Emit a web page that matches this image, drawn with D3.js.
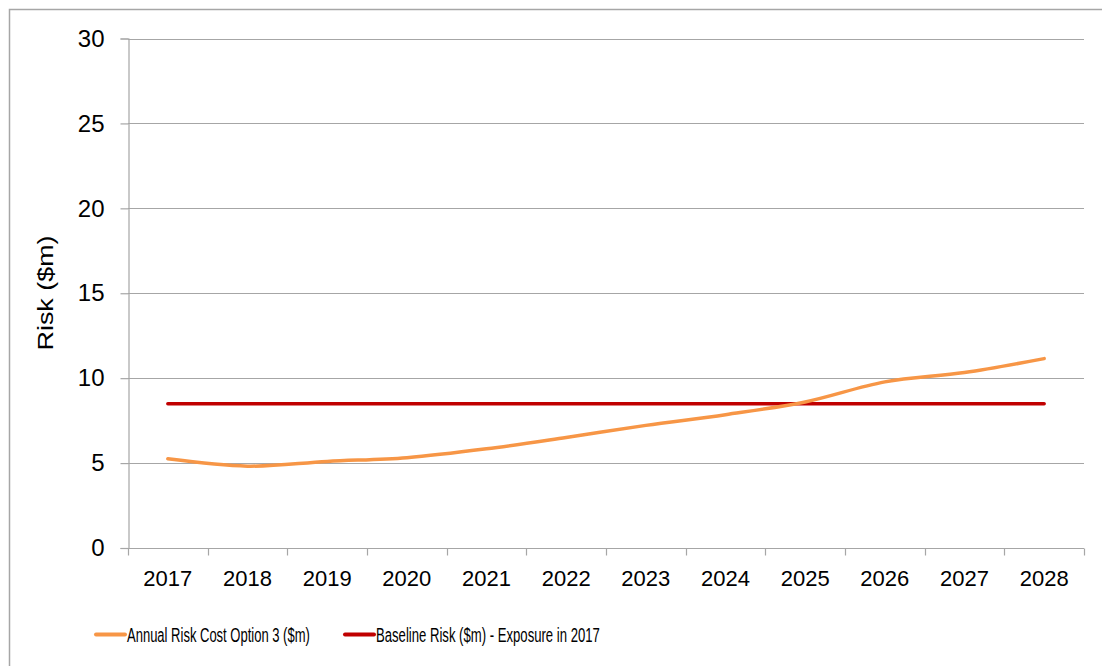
<!DOCTYPE html>
<html>
<head>
<meta charset="utf-8">
<script src="https://cdn.jsdelivr.net/npm/d3@7"></script>
<style>
  html, body { margin: 0; padding: 0; background: #fff; }
  svg { display: block; font-family: "Liberation Sans", Arial, sans-serif; }
</style>
</head>
<body>
<svg id="chart" width="1102" height="666"></svg>
<script>
// Chart data
const years = ["2017","2018","2019","2020","2021","2022","2023","2024","2025","2026","2027","2028"];
const option3Risk = [5.25, 4.82, 5.10, 5.32, 5.84, 6.51, 7.22, 7.85, 8.60, 9.78, 10.33, 11.15];
const baselineRisk = [8.5, 8.5, 8.5, 8.5, 8.5, 8.5, 8.5, 8.5, 8.5, 8.5, 8.5, 8.5];
const yTicks = [0, 5, 10, 15, 20, 25, 30];
const seriesNames = ["Annual Risk Cost Option 3 ($m)", "Baseline Risk ($m) - Exposure in 2017"];

const svg = d3.select("#chart");
const gridColor = "#a6a6a6";
const plot = { left: 128, right: 1084, top: 38.5, bottom: 548 };

// Outer frame of the chart area
svg.append("rect")
  .attr("x", 9.5).attr("y", 9.5)
  .attr("width", 1102).attr("height", 666)
  .attr("fill", "none").attr("stroke", gridColor).attr("stroke-width", 1.5);

const x = d3.scaleBand().domain(years).range([plot.left, plot.right]);
const xc = d => x(d) + x.bandwidth() / 2;
const y = d3.scaleLinear().domain([0, 30]).range([plot.bottom, plot.top]);

// Horizontal gridlines
svg.append("g").selectAll("line").data(yTicks.filter(t => t > 0)).join("line")
  .attr("x1", plot.left).attr("x2", plot.right)
  .attr("y1", d => Math.round(y(d)) + 0.5).attr("y2", d => Math.round(y(d)) + 0.5)
  .attr("stroke", gridColor).attr("stroke-width", 1.2);

// Y axis
const yAxis = svg.append("g")
  .attr("transform", `translate(${plot.left + 0.5},0)`)
  .call(d3.axisLeft(y).tickValues(yTicks).tickSize(8).tickPadding(16));
yAxis.select(".domain").attr("stroke", gridColor).attr("stroke-width", 1.2);
yAxis.selectAll(".tick line").attr("stroke", gridColor).attr("stroke-width", 1.2);
yAxis.selectAll(".tick text")
  .attr("font-size", 24).attr("fill", "#000")
  .attr("font-family", "Liberation Sans, Arial, sans-serif");

// X axis with tick marks on the category boundaries
const xAxisG = svg.append("g").attr("transform", `translate(0,${Math.round(plot.bottom) + 0.5})`);
xAxisG.append("line")
  .attr("x1", plot.left).attr("x2", plot.right)
  .attr("stroke", gridColor).attr("stroke-width", 1.2);
const boundaries = years.map(d => x(d)).concat([plot.right]);
xAxisG.selectAll("line.tk").data(boundaries).join("line")
  .attr("class", "tk")
  .attr("x1", d => Math.round(d) + 0.5).attr("x2", d => Math.round(d) + 0.5)
  .attr("y1", 0).attr("y2", 7)
  .attr("stroke", gridColor).attr("stroke-width", 1.2);
xAxisG.selectAll("text").data(years).join("text")
  .attr("x", d => xc(d)).attr("y", 37)
  .attr("text-anchor", "middle")
  .attr("font-size", 22).attr("fill", "#000")
  .text(d => d);

// Y axis title
svg.append("text")
  .attr("transform", "translate(53,293) rotate(-90)")
  .attr("text-anchor", "middle")
  .attr("font-size", 22)
  .attr("textLength", 115).attr("lengthAdjust", "spacingAndGlyphs")
  .attr("fill", "#000")
  .text("Risk ($m)");

// Series lines
const smooth = d3.line()
  .x((d, i) => xc(years[i]))
  .y(d => y(d))
  .curve(d3.curveCardinal.tension(0));
const straight = d3.line()
  .x((d, i) => xc(years[i]))
  .y(d => y(d));

svg.append("path")
  .datum(baselineRisk)
  .attr("d", straight)
  .attr("fill", "none").attr("stroke", "#c00000")
  .attr("stroke-width", 3.5).attr("stroke-linecap", "round");

svg.append("path")
  .datum(option3Risk)
  .attr("d", smooth)
  .attr("fill", "none").attr("stroke", "#f79646")
  .attr("stroke-width", 3.5).attr("stroke-linecap", "round");

// Legend (narrow text, squeezed horizontally to its target width)
const legendItems = [
  { name: seriesNames[0], color: "#f79646", x: 96, len: 183 },
  { name: seriesNames[1], color: "#c00000", x: 345, len: 224 }
];
const lg = svg.append("g");
legendItems.forEach(it => {
  lg.append("line")
    .attr("x1", it.x).attr("x2", it.x + 29)
    .attr("y1", 634.5).attr("y2", 634.5)
    .attr("stroke", it.color).attr("stroke-width", 4).attr("stroke-linecap", "round");
  const t = lg.append("text")
    .attr("font-size", 21)
    .attr("fill", "#000")
    .text(it.name);
  const natural = t.node().getComputedTextLength();
  t.attr("transform", `translate(${it.x + 31},642) scale(${it.len / natural},1)`);
});
</script>
</body>
</html>
